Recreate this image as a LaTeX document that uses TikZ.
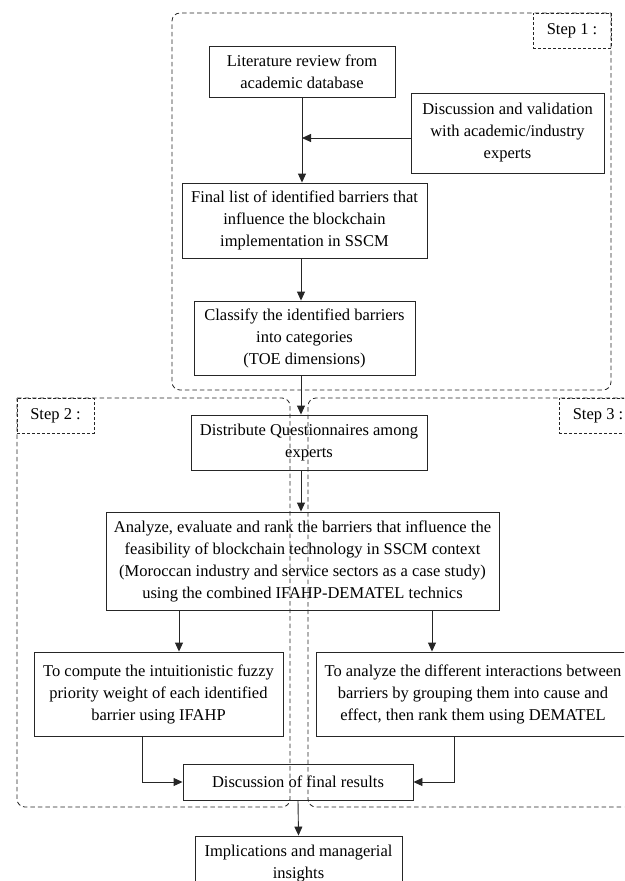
\documentclass[tikz,border=0pt]{standalone}
\usepackage{fontspec}
\setmainfont{Liberation Serif}
\usetikzlibrary{arrows.meta}
\begin{document}
\begin{tikzpicture}[x=1pt,y=-1pt,
 box/.style={draw=black!85, line width=0.9pt, align=center, inner sep=0pt, font=\fontsize{16.5}{22}\selectfont},
 region/.style={draw=black!85, line width=0.8pt, dash pattern=on 4.5pt off 3pt, rounded corners=8pt},
 steplabel/.style={draw=black!85, line width=0.8pt, dash pattern=on 3pt off 2pt, inner sep=0pt, font=\fontsize{16.5}{20}\selectfont},
 arr/.style={draw=black!85, line width=0.9pt, -{Triangle[length=9pt,width=8pt]}},
 link/.style={draw=black!85, line width=0.9pt}]
\useasboundingbox (0,0) rectangle (624,881);
\clip (0,0) rectangle (624,881);

% boxes
\node[box, minimum width=186pt, minimum height=51pt] (lit) at (302,71.5) {Literature review from\\academic database};
\node[box, minimum width=193pt, minimum height=80pt] (disc) at (507.5,133) {Discussion and validation\\with academic/industry\\experts};
\node[box, minimum width=245pt, minimum height=75pt] (final) at (304.5,220.5) {Final list of identified barriers that\\influence the blockchain\\implementation in SSCM};
\node[box, minimum width=221pt, minimum height=74pt] (classify) at (304.5,338) {Classify the identified barriers\\into categories\\(TOE dimensions)};
\node[box, minimum width=236pt, minimum height=55pt] (distr) at (309,442.5) {Distribute Questionnaires among\\experts};
\node[box, minimum width=393pt, minimum height=98pt] (analyze) at (302.5,561) {Analyze, evaluate and rank the barriers that influence the\\feasibility of blockchain technology in SSCM context\\(Moroccan industry and service sectors as a case study)\\using the combined IFAHP-DEMATEL technics};
\node[box, minimum width=249pt, minimum height=84pt] (compute) at (158.5,694) {To compute the intuitionistic fuzzy\\priority weight of each identified\\barrier using IFAHP};
\node[box, minimum width=314pt, minimum height=84pt] (inter) at (473,694) {To analyze the different interactions between\\barriers by grouping them into cause and\\effect, then rank them using DEMATEL};
\node[box, minimum width=230pt, minimum height=36pt] (results) at (298,782) {Discussion of final results};
\node[box, minimum width=207pt, minimum height=55pt] (impl) at (298.5,863.5) {Implications and managerial\\insights};

% helper coordinates
\coordinate (j1) at (302,138);
\coordinate (spine) at (301,0);
\coordinate (c1) at (142,0);
\coordinate (c2) at (454,0);
\coordinate (c3) at (179,0);
\coordinate (c4) at (432,0);

% connectors
\draw[arr] (lit.south) -- (lit.south |- final.north);
\draw[arr] (disc.west |- j1) -- (j1);
\draw[arr] (final.south -| spine) -- (classify.north -| spine);
\draw[arr] (classify.south -| spine) -- (distr.north -| spine);
\draw[arr] (distr.south -| spine) -- (analyze.north -| spine);
\draw[arr] (analyze.south -| c3) -- (compute.north -| c3);
\draw[arr] (analyze.south -| c4) -- (inter.north -| c4);
\draw[arr] (compute.south -| c1) |- (results.west);
\draw[arr] (inter.south -| c2) |- (results.east);
\draw[arr] (results.south) -- (impl.north);

% dashed regions
\draw[region] (611,13) -- (611,390) -- (172,390) -- (172,13) -- (611,13);
\draw[region] (17,398) -- (290,398) -- (290,807) -- (17,807) -- (17,398);
\draw[region] (640,398) -- (308,398) -- (308,807) -- (640,807);

% step labels
\node[steplabel, minimum width=78pt, minimum height=35pt] (s1) at (572,30.5) {Step 1 :};
\node[steplabel, minimum width=77pt, minimum height=35pt] (s2) at (55.5,415.5) {Step 2 :};
\node[steplabel, minimum width=78pt, minimum height=35pt] (s3) at (598,415.5) {Step 3 :};
\end{tikzpicture}
\end{document}
